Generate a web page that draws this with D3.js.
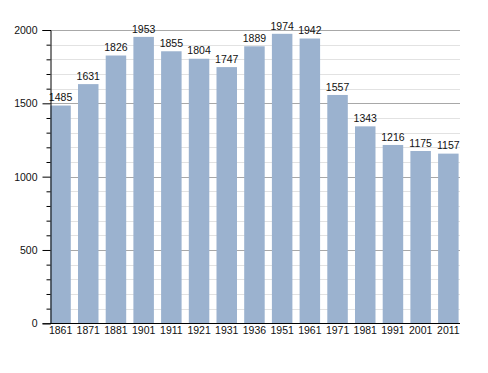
<!DOCTYPE html>
<html><head><meta charset="utf-8">
<script src="https://cdn.jsdelivr.net/npm/d3@7"></script>
<style>body{margin:0;background:#fff}svg{display:block}text{font-family:"Liberation Sans",Arial,sans-serif;font-size:10.5px;fill:#111}</style>
</head><body><svg id="c" width="488" height="373"></svg>
<script>
const years = ["1861","1871","1881","1901","1911","1921","1931","1936","1951","1961","1971","1981","1991","2001","2011"];
const population = [1485,1631,1826,1953,1855,1804,1747,1889,1974,1942,1557,1343,1216,1175,1157];
const majorTicks = [0,500,1000,1500,2000];

const svg = d3.select("#c");
const x0 = 50, x1 = 460;
const step = 27.7, padIn = 0.26;
const x = d3.scaleBand().domain(years).range([x0 + 0.3, x0 + 0.3 + step*(years.length - padIn)]).paddingInner(padIn).paddingOuter(0).align(0);
const y = d3.scaleLinear().domain([0,2000]).range([323.3,30]);

const minor = d3.range(100,2001,100).filter(v=>v%500!==0);
// minor grid
svg.append("g").selectAll("line").data(minor).join("line")
  .attr("x1",x0).attr("x2",x1).attr("y1",d=>Math.round(y(d))+0.5).attr("y2",d=>Math.round(y(d))+0.5)
  .attr("stroke","#e2e2e2").attr("stroke-width",1);
// major grid
svg.append("g").selectAll("line").data(majorTicks.filter(d=>d>0)).join("line")
  .attr("x1",x0).attr("x2",x1).attr("y1",d=>Math.round(y(d))+0.5).attr("y2",d=>Math.round(y(d))+0.5)
  .attr("stroke","#a8a8a8").attr("stroke-width",1);

// bars
svg.append("g").selectAll("rect").data(population).join("rect")
  .attr("x",(d,i)=>x(years[i])).attr("width",x.bandwidth())
  .attr("y",d=>y(d)).attr("height",d=>y(0)-y(d))
  .attr("fill","#9bb2cf");

// value labels
svg.append("g").selectAll("text").data(population).join("text")
  .attr("x",(d,i)=>x(years[i])+x.bandwidth()/2).attr("y",d=>y(d)-4.3)
  .attr("text-anchor","middle").text(d=>d);

// y axis
const yAxis = d3.axisLeft(y).tickValues(majorTicks).tickSize(8).tickPadding(5).tickFormat(d3.format("d"));
const ga = svg.append("g").attr("transform",`translate(${x0+0.5},0)`).call(yAxis);
ga.select(".domain").attr("stroke","#000");
ga.selectAll(".tick line").attr("stroke","#000");
ga.selectAll("text").attr("font-size",10.5).attr("font-family",null).style("fill","#111");
const gm = svg.append("g").attr("transform",`translate(${x0+0.5},0)`)
  .call(d3.axisLeft(y).tickValues(minor).tickSize(4).tickFormat(""));
gm.select(".domain").remove();
gm.selectAll(".tick line").attr("stroke","#000");

// x axis
const xAxis = d3.axisBottom(x).tickSize(0).tickPadding(3);
const gx = svg.append("g").attr("transform",`translate(0,${Math.round(y(0))+0.5})`).call(xAxis);
gx.select(".domain").attr("d",`M${x0},0H${x1}`).attr("stroke","#000");
gx.selectAll("text").attr("font-size",10.5).attr("font-family",null).style("fill","#111");
</script></body></html>
